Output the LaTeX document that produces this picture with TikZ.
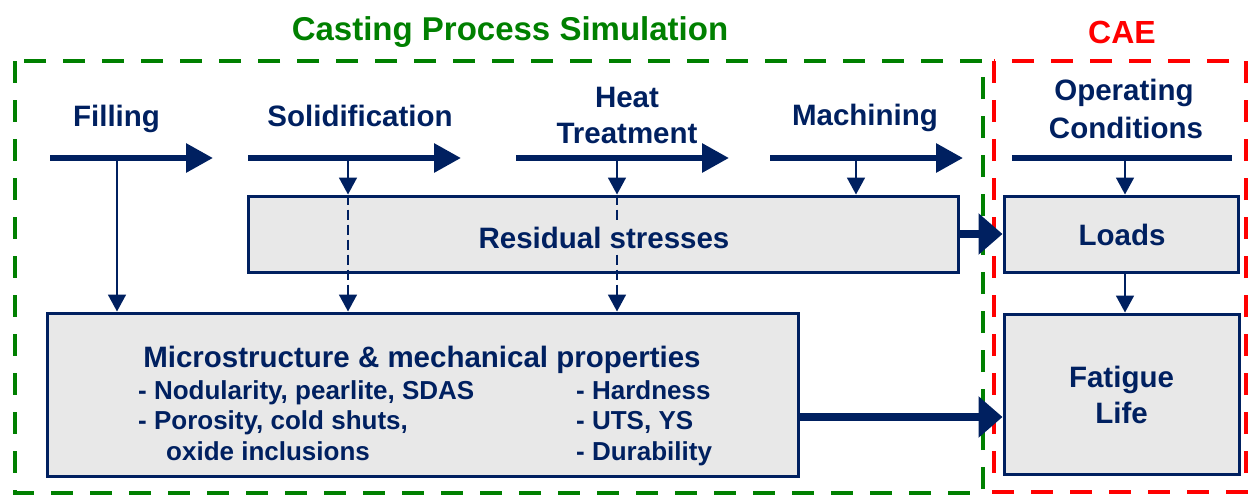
\documentclass[tikz,border=0pt]{standalone}
\usepackage{fontspec}
\setmainfont{Liberation Sans}
\usetikzlibrary{arrows.meta}
\definecolor{navy}{HTML}{002060}
\definecolor{boxgray}{HTML}{E8E8E8}
\definecolor{grn}{HTML}{008000}
\definecolor{rd}{HTML}{FF0000}
\begin{document}
\begin{tikzpicture}[x=1pt,y=-1pt,
  lbl/.style={text=navy,font=\bfseries\fontsize{29.5}{35}\selectfont,align=center,inner sep=0pt},
  subt/.style={text=navy,font=\bfseries\fontsize{26}{31}\selectfont,inner sep=0pt,anchor=base west},
  box/.style={draw=navy,fill=boxgray,line width=3pt,inner sep=0pt},
  bigarrow/.style={navy,line width=6pt,-{Triangle[length=27pt,width=28pt]}},
  thinarrow/.style={navy,line width=1.8pt,-{Triangle[length=17pt,width=18pt]}},
  fatarrow/.style={navy,line width=8pt,-{Triangle[length=24pt,width=40pt]}},
  dashbox/.style={line width=4pt,dash pattern=on 22pt off 17pt},
  thruline/.style={navy,line width=1.8pt,dash pattern=on 10pt off 5pt,-{Triangle[length=17pt,width=18pt]}}
]
\useasboundingbox (0,0) rectangle (1248,496);
% dashed frames
\draw[dashbox,grn] (15,61) rectangle (983,493);
\draw[dashbox,rd] (994,61) rectangle (1246,492);
% titles
\node[text=grn,font=\bfseries\fontsize{33}{38}\selectfont,inner sep=0pt,anchor=base] (t1) at (510,40) {Casting Process Simulation};
\node[text=rd,font=\bfseries\fontsize{32}{38}\selectfont,inner sep=0pt,anchor=base] (t2) at (1122,43) {CAE};
% boxes
\node[box,minimum width=710pt,minimum height=76pt] (res) at (603,234) {};
\node[box,minimum width=234pt,minimum height=76pt] (loads) at (1121,234) {};
\node[lbl,anchor=base] (loadt) at (1122,245) {Loads};
\node[box,minimum width=235pt,minimum height=160pt] (fat) at (1121.5,394) {};
\node[lbl,anchor=base] (fat1) at (1121.5,387) {Fatigue};
\node[lbl,anchor=base] (fat2) at (1121.5,423) {Life};
\node[box,minimum width=751pt,minimum height=163pt] (mic) at (422.5,394.5) {};
\node[text=navy,font=\bfseries\fontsize{29.5}{34}\selectfont,inner sep=0pt,anchor=base] (mich) at (422,367) {Microstructure \& mechanical properties};
\node[subt] (m1) at (138,399) {- Nodularity, pearlite, SDAS};
\node[subt] (m2) at (138,429) {- Porosity, cold shuts,};
\node[subt] (m3) at (166,460) {oxide inclusions};
\node[subt] (m4) at (576,399) {- Hardness};
\node[subt] (m5) at (576,429) {- UTS, YS};
\node[subt] (m6) at (576,460) {- Durability};
% step labels
\node[lbl,anchor=base] (lf) at (116.5,126) {Filling};
\node[lbl,anchor=base] (ls) at (360,126) {Solidification};
\node[lbl,anchor=base] (lh1) at (627,107) {Heat};
\node[lbl,anchor=base] (lh2) at (627,143) {Treatment};
\node[lbl,anchor=base] (lm) at (865,125) {Machining};
\node[lbl,anchor=base] (lo1) at (1124,100) {Operating};
\node[lbl,anchor=base] (lo2) at (1126,138) {Conditions};
% arrow endpoints
\coordinate (fa) at (50,158);  \coordinate (fb) at (213,158);
\coordinate (sa) at (248,158); \coordinate (sb) at (461,158);
\coordinate (ha) at (516,158); \coordinate (hb) at (729,158);
\coordinate (ma) at (770,158); \coordinate (mb) at (963,158);
\coordinate (oa) at (1012,158); \coordinate (ob) at (1232,158);
\coordinate (fv) at (117,158);
\coordinate (sv) at (348,158);
\coordinate (hv) at (617,158);
\coordinate (mv) at (856,158);
\coordinate (ov) at (1125,158);
% top arrows
\draw[bigarrow] (fa) -- (fb);
\draw[bigarrow] (sa) -- (sb);
\draw[bigarrow] (ha) -- (hb);
\draw[bigarrow] (ma) -- (mb);
\draw[navy,line width=6pt] (oa) -- (ob);
% vertical arrows
\draw[thinarrow] (fv) -- (fv |- mic.north);
\draw[thinarrow] (sv) -- (sv |- res.north);
\draw[thinarrow] (hv) -- (hv |- res.north);
\draw[thinarrow] (mv) -- (mv |- res.north);
\draw[thinarrow] (ov) -- (ov |- loads.north);
\draw[thruline] (sv |- res.north) -- (sv |- mic.north);
\draw[thruline] (hv |- res.north) -- (hv |- mic.north);
\draw[thinarrow] (ov |- loads.south) -- (ov |- fat.north);
% residual label over the dashed line
\node[lbl,anchor=base,fill=boxgray,inner ysep=4pt,inner xsep=1pt] (rest) at (604,248) {Residual stresses};
% fat arrows
\draw[fatarrow] (res.east) -- (loads.west);
\draw[fatarrow] (mic.east |- 0,417) -- (fat.west |- 0,417);
\end{tikzpicture}
\end{document}
